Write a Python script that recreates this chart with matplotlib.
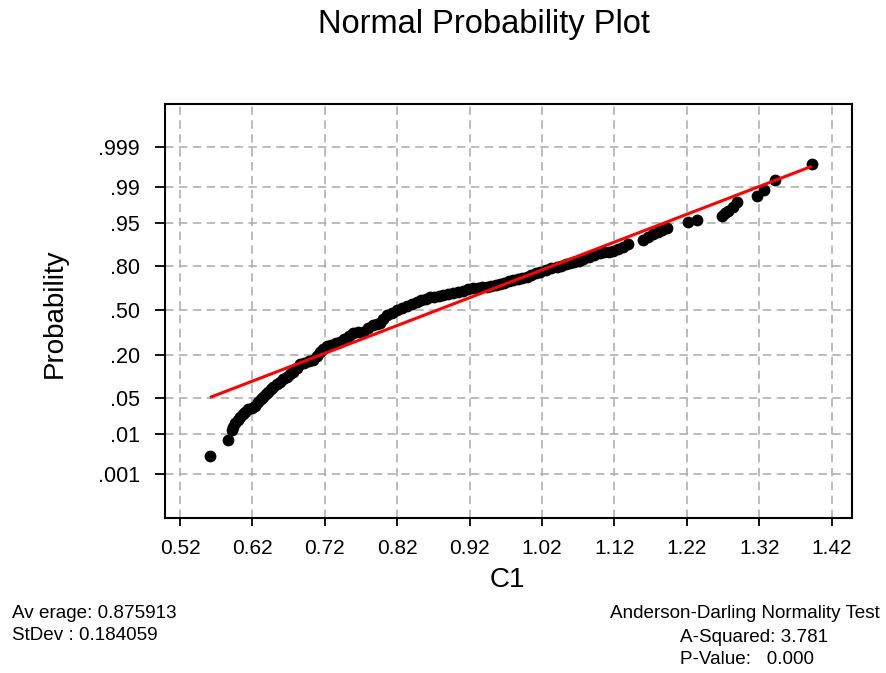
import matplotlib
matplotlib.use("Agg")
import matplotlib.pyplot as plt
from matplotlib import font_manager
from statistics import NormalDist
import numpy as np

# ---- data ----
c1_values = [
    0.5614, 0.5859, 0.5914, 0.5937, 0.5960, 0.5995, 0.6029, 0.6064, 0.6098, 0.6143,
    0.6190, 0.6236, 0.6281, 0.6316, 0.6350, 0.6385, 0.6419, 0.6454, 0.6488, 0.6535,
    0.6581, 0.6628, 0.6674, 0.6720, 0.6765, 0.6811, 0.6857, 0.6918, 0.6980, 0.7041,
    0.7087, 0.7133, 0.7180, 0.7226, 0.7287, 0.7349, 0.7410, 0.7471, 0.7532, 0.7593,
    0.7662, 0.7731, 0.7800, 0.7870, 0.7916, 0.7962, 0.8008, 0.8055, 0.8124, 0.8193,
    0.8262, 0.8331, 0.8400, 0.8469, 0.8530, 0.8592, 0.8653, 0.8714, 0.8775, 0.8836,
    0.8905, 0.8974, 0.9044, 0.9113, 0.9182, 0.9251, 0.9313, 0.9374, 0.9436, 0.9497,
    0.9558, 0.9619, 0.9680, 0.9742, 0.9803, 0.9865, 0.9926, 0.9988, 1.0049, 1.0111,
    1.0172, 1.0249, 1.0325, 1.0402, 1.0463, 1.0525, 1.0586, 1.0647, 1.0709, 1.0770,
    1.0847, 1.0923, 1.1000, 1.1061, 1.1123, 1.1184, 1.1253, 1.1322, 1.1391, 1.1598,
    1.1667, 1.1736, 1.1798, 1.1859, 1.1921, 1.2220, 1.2344, 1.2681, 1.2727, 1.2772,
    1.2841, 1.2896, 1.3173, 1.3265, 1.3417, 1.3924,
]
normal_score = [
    -2.745, -2.443, -2.255, -2.190, -2.128, -2.066, -2.004, -1.956, -1.909, -1.864,
    -1.833, -1.802, -1.721, -1.674, -1.626, -1.579, -1.532, -1.485, -1.438, -1.390,
    -1.343, -1.296, -1.249, -1.202, -1.155, -1.085, -1.015, -0.988, -0.961, -0.934,
    -0.856, -0.777, -0.724, -0.670, -0.643, -0.616, -0.589, -0.536, -0.483, -0.430,
    -0.415, -0.400, -0.337, -0.274, -0.258, -0.242, -0.164, -0.085, -0.038, 0.009,
    0.047, 0.085, 0.126, 0.166, 0.194, 0.221, 0.249, 0.263, 0.278, 0.292,
    0.309, 0.325, 0.350, 0.374, 0.397, 0.419, 0.429, 0.439, 0.449, 0.466,
    0.483, 0.500, 0.525, 0.550, 0.575, 0.596, 0.617, 0.638, 0.669, 0.701,
    0.732, 0.763, 0.795, 0.826, 0.848, 0.869, 0.891, 0.916, 0.941, 0.966,
    1.004, 1.041, 1.079, 1.095, 1.112, 1.128, 1.166, 1.204, 1.255, 1.330,
    1.387, 1.443, 1.479, 1.515, 1.551, 1.675, 1.708, 1.783, 1.833, 1.883,
    1.958, 2.053, 2.160, 2.274, 2.462, 2.764,
]
fit_mean = 0.874
fit_sd = 0.1906

x_ticks = [0.52, 0.62, 0.72, 0.82, 0.92, 1.02, 1.12, 1.22, 1.32, 1.42]
x_tick_labels = ["0.52", "0.62", "0.72", "0.82", "0.92", "1.02", "1.12", "1.22", "1.32", "1.42"]
prob_ticks = [0.001, 0.01, 0.05, 0.20, 0.50, 0.80, 0.95, 0.99, 0.999]
prob_tick_labels = [".001", ".01", ".05", ".20", ".50", ".80", ".95", ".99", ".999"]

title = "Normal Probability Plot"
x_label = "C1"
y_label = "Probability"
stats_left = ["Av erage: 0.875913", "StDev : 0.184059"]
stats_right_head = "Anderson-Darling Normality Test"
stats_right = ["A-Squared: 3.781", "P-Value:   0.000"]

# ---- fonts ----
names = {f.name for f in font_manager.fontManager.ttflist}
main_font = ["Liberation Sans", "DejaVu Sans"]
narrow_font = (["Liberation Sans Narrow", "Liberation Sans", "DejaVu Sans"]
               if "Liberation Sans Narrow" in names else main_font)
narrow_size = 16 if "Liberation Sans Narrow" in names else 13.6
plt.rcParams["font.family"] = main_font

nd = NormalDist()

fig = plt.figure(figsize=(8.87, 6.73), dpi=100)
ax = fig.add_axes([165 / 887, 1 - 518 / 673, 687 / 887, 414 / 673])

# grid
ax.set_axisbelow(True)
ax.grid(True, color="#aaaaaa", linestyle=(0, (5.5, 3.6)), linewidth=1.1)

# points
ax.scatter(c1_values, normal_score, s=72, color="black", zorder=3, linewidths=0)

# fitted line
x_line = np.array([min(c1_values), max(c1_values)])
z_line = (x_line - fit_mean) / fit_sd
ax.plot(x_line, z_line, color="#ff0000", linewidth=2.2, zorder=4, solid_capstyle="butt")

ax.set_xlim(0.4993, 1.4482)
ax.set_ylim(-3.915, 3.896)
ax.set_xticks(x_ticks)
ax.set_xticklabels(x_tick_labels)
ax.set_yticks([nd.inv_cdf(p) for p in prob_ticks])
ax.set_yticklabels(prob_tick_labels)

ax.tick_params(axis="x", direction="out", length=6, width=1.3, labelsize=15, pad=9)
ax.tick_params(axis="y", direction="out", length=7, width=1.3, labelsize=15.5, pad=11)
for sp in ax.spines.values():
    sp.set_linewidth(1.5)
    sp.set_color("black")

# labels
fig.text(484 / 887, 1 - 25 / 673, title, fontsize=23.5, ha="center", va="center")
fig.text(507 / 887, 1 - 580 / 673, x_label, fontsize=20, ha="center", va="center")
fig.text(55 / 887, 1 - 313 / 673, y_label, fontsize=20, ha="center", va="center",
         rotation=90)

# statistics text
fig.text(12 / 887, 1 - 613 / 673, stats_left[0], fontsize=narrow_size, family=narrow_font,
         ha="left", va="center")
fig.text(12 / 887, 1 - 636 / 673, stats_left[1], fontsize=narrow_size, family=narrow_font,
         ha="left", va="center")
fig.text(880 / 887, 1 - 613 / 673, stats_right_head, fontsize=narrow_size, family=narrow_font,
         ha="right", va="center")
fig.text(680 / 887, 1 - 637 / 673, stats_right[0], fontsize=narrow_size, family=narrow_font,
         ha="left", va="center")
fig.text(680 / 887, 1 - 660 / 673, stats_right[1], fontsize=narrow_size, family=narrow_font,
         ha="left", va="center")

fig.savefig("out.png", dpi=100, facecolor="white")
